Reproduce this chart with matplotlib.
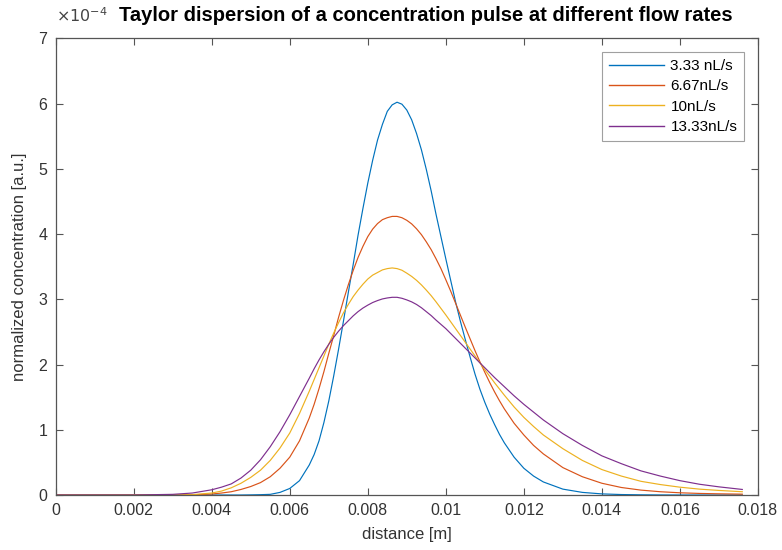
import numpy as np
import matplotlib.pyplot as plt

plt.rcParams['font.family'] = ['Liberation Sans', 'DejaVu Sans']

# distance along the channel [m]
distance = [0, 0.001, 0.002, 0.003, 0.0035, 0.004, 0.00425, 0.0045, 0.00475, 0.005,
            0.00525, 0.0055, 0.00575, 0.006, 0.00625,
            0.0065, 0.006625, 0.00675, 0.006875, 0.007, 0.007125, 0.00725, 0.007375,
            0.0075, 0.007625, 0.00775, 0.007875, 0.008, 0.008125, 0.00825, 0.008375,
            0.0085, 0.008625, 0.00875, 0.008875, 0.009, 0.009125, 0.00925, 0.009375,
            0.0095, 0.009625, 0.00975, 0.009875, 0.01, 0.010125, 0.01025, 0.010375,
            0.0105, 0.010625, 0.01075, 0.010875, 0.011, 0.011125, 0.01125, 0.011375,
            0.0115,
            0.01175, 0.012, 0.01225, 0.0125, 0.013, 0.0135, 0.014, 0.0145, 0.015,
            0.0155, 0.016, 0.0165, 0.017, 0.0176]

# normalized concentration, in units of 1e-4
c_333 = [0, 0, 0, 0, 0, 0, 0, 0, 0, 0.002,
         0.005, 0.01, 0.04, 0.10, 0.22,
         0.46, 0.62, 0.83, 1.11, 1.44, 1.82, 2.23, 2.66,
         3.10, 3.53, 3.98, 4.39, 4.78, 5.13, 5.44, 5.68,
         5.88, 5.98, 6.02, 5.99, 5.90, 5.75, 5.54, 5.29,
         4.99, 4.66, 4.30, 3.96, 3.62, 3.29, 2.96, 2.66,
         2.38, 2.11, 1.85, 1.62, 1.42, 1.24, 1.08, 0.93,
         0.80,
         0.58, 0.41, 0.29, 0.20, 0.09, 0.04, 0.017, 0.007, 0.003,
         0.001, 0, 0, 0, 0]
c_667 = [0, 0, 0, 0, 0.003, 0.015, 0.03, 0.05, 0.085, 0.13,
         0.19, 0.28, 0.41, 0.58, 0.83,
         1.18, 1.39, 1.63, 1.89, 2.17, 2.44, 2.72, 2.98,
         3.22, 3.44, 3.64, 3.81, 3.96, 4.075, 4.16, 4.22,
         4.25, 4.27, 4.27, 4.25, 4.21, 4.155, 4.08, 3.99,
         3.88, 3.76, 3.62, 3.47, 3.30, 3.125, 2.94, 2.755,
         2.57, 2.39, 2.21, 2.04, 1.88, 1.725, 1.58, 1.445,
         1.32,
         1.10, 0.92, 0.76, 0.63, 0.42, 0.28, 0.18, 0.115, 0.075,
         0.05, 0.034, 0.024, 0.018, 0.013]
c_10 = [0, 0, 0, 0.002, 0.005, 0.03, 0.06, 0.11, 0.18, 0.27,
        0.38, 0.53, 0.72, 0.95, 1.25,
        1.59, 1.77, 1.95, 2.13, 2.31, 2.48, 2.64, 2.79,
        2.92, 3.04, 3.14, 3.23, 3.31, 3.37, 3.41, 3.45,
        3.47, 3.48, 3.47, 3.445, 3.40, 3.35, 3.29, 3.22,
        3.14, 3.055, 2.96, 2.86, 2.76, 2.655, 2.55, 2.445,
        2.34, 2.235, 2.13, 2.025, 1.92, 1.82, 1.72, 1.625,
        1.53,
        1.35, 1.19, 1.05, 0.92, 0.71, 0.53, 0.39, 0.29, 0.21,
        0.16, 0.12, 0.09, 0.07, 0.05]
c_1333 = [0, 0, 0, 0.01, 0.03, 0.08, 0.12, 0.17, 0.26, 0.38,
          0.54, 0.74, 0.97, 1.23, 1.51,
          1.79, 1.935, 2.07, 2.195, 2.31, 2.415, 2.51, 2.595,
          2.67, 2.745, 2.81, 2.865, 2.91, 2.95, 2.98, 3.005,
          3.02, 3.03, 3.03, 3.015, 2.99, 2.96, 2.92, 2.87,
          2.81, 2.75, 2.68, 2.615, 2.55, 2.475, 2.40, 2.325,
          2.25, 2.175, 2.10, 2.025, 1.95, 1.875, 1.80, 1.73,
          1.66,
          1.52, 1.39, 1.27, 1.15, 0.94, 0.76, 0.60, 0.48, 0.37,
          0.29, 0.22, 0.165, 0.125, 0.085]

labels = ['3.33 nL/s', '6.67nL/s', '10nL/s', '13.33nL/s']
colors = ['#0072BD', '#D95319', '#EDB120', '#7E2F8E']

xticks = [0, 0.002, 0.004, 0.006, 0.008, 0.01, 0.012, 0.014, 0.016, 0.018]
xtick_labels = ['0', '0.002', '0.004', '0.006', '0.008', '0.01', '0.012', '0.014', '0.016', '0.018']
yticks = [0, 1, 2, 3, 4, 5, 6, 7]

fig = plt.figure(figsize=(7.82, 5.5), dpi=100)
ax = fig.add_axes([0.0712, 0.1, 0.898, 0.8304])

x = np.array(distance)
for ys, lab, col in zip([c_333, c_667, c_10, c_1333], labels, colors):
    ax.plot(x, np.array(ys) * 1e-4, color=col, lw=0.85, label=lab)

ax.set_xlim(0, 0.018)
ax.set_ylim(0, 7e-4)
ax.set_xticks(xticks)
ax.set_xticklabels(xtick_labels)
ax.set_yticks([v * 1e-4 for v in yticks])
ax.set_yticklabels([str(v) for v in yticks])

edge = '#555555'
for s in ax.spines.values():
    s.set_color(edge)
    s.set_linewidth(0.9)
ax.tick_params(direction='in', top=True, right=True, length=5, width=0.8,
               color=edge, labelsize=11.5, labelcolor='#333333', pad=6)

ax.set_xlabel('distance [m]', fontsize=12, color='#333333', labelpad=6)
ax.set_ylabel('normalized concentration [a.u.]', fontsize=12, color='#333333', labelpad=8)

ax.text(0.0, 1.03, r'$\times10^{-4}$', transform=ax.transAxes, fontsize=11.5,
        color='#444444', ha='left', va='bottom')
fig.text(0.545, 0.955, 'Taylor dispersion of a concentration pulse at different flow rates',
         fontsize=14.5, fontweight='bold', ha='center', va='bottom', color='black')

leg = ax.legend(loc='upper right', fontsize=11, frameon=True, fancybox=False,
                handlelength=3.6, borderaxespad=0.9, labelspacing=0.42,
                handletextpad=0.4, borderpad=0.45)
leg.get_frame().set_edgecolor('#888888')
leg.get_frame().set_linewidth(0.8)
for h in leg.get_lines():
    h.set_linewidth(1.0)

fig.savefig('out.png', dpi=100)
